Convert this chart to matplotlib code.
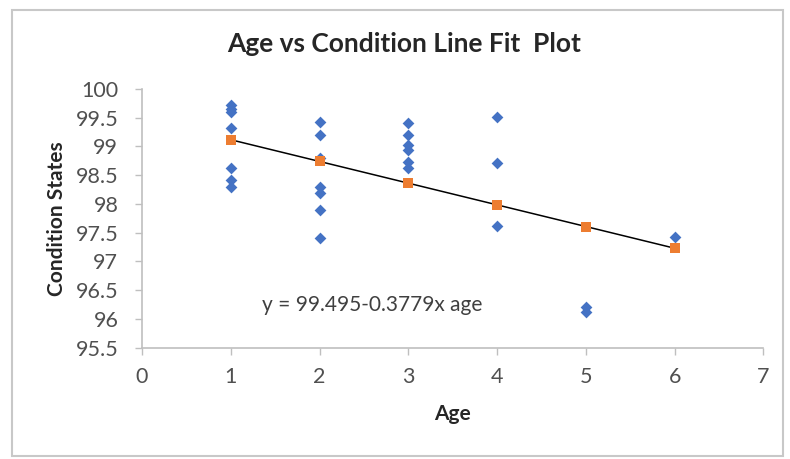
"""
Age vs Condition line fit plot
"""

import matplotlib
matplotlib.use('Agg')
import matplotlib.pyplot as plt
from matplotlib.patches import Rectangle

plt.rcParams['font.family'] = ['Lato', 'DejaVu Sans']

# observed condition states, by age
age_obs = [1, 1, 1, 1, 1, 1, 1,
           2, 2, 2, 2, 2, 2, 2,
           3, 3, 3, 3, 3, 3,
           4, 4, 4,
           5, 5,
           6]
cond_obs = [99.72, 99.66, 99.6, 99.32, 98.62, 98.41, 98.29,
            99.43, 99.2, 98.8, 98.3, 98.19, 97.89, 97.4,
            99.41, 99.2, 99.02, 98.94, 98.73, 98.62,
            99.51, 98.71, 97.62,
            96.21, 96.11,
            97.43]

# predicted values from the fit
age_fit = [1, 2, 3, 4, 5, 6]
cond_fit = [99.117, 98.739, 98.361, 97.983, 97.606, 97.228]

x_ticks = [0, 1, 2, 3, 4, 5, 6, 7]
y_ticks = [95.5, 96, 96.5, 97, 97.5, 98, 98.5, 99, 99.5, 100]

###############################################################################
fig = plt.figure(figsize=(7.9, 4.59), dpi=100)
ax = fig.add_axes([0.1797, 0.2429, 0.7867, 0.5632])

# chart border
fig.patches.append(Rectangle((12 / 790, 3 / 459), 771 / 790, 446 / 459,
                             transform=fig.transFigure, fill=False,
                             edgecolor='#c8c8c8', linewidth=1.5))

ax.plot(age_fit, cond_fit, color='black', linewidth=1.1, zorder=2)
ax.scatter(age_obs, cond_obs, marker='D', s=36, color='#4472C4',
           linewidths=0, zorder=3)
ax.scatter(age_fit, cond_fit, marker='s', s=50, color='#ED7D31',
           linewidths=0, zorder=4)

ax.text(1.35, 96.24, 'y = 99.495-0.3779x age', fontsize=15,
        color='#404040', va='center')

ax.set_xlim(0, 7)
ax.set_ylim(95.5, 100)
ax.set_xticks(x_ticks)
ax.set_yticks(y_ticks)
ax.set_xticklabels([str(t) for t in x_ticks])
ax.set_yticklabels(['%g' % t for t in y_ticks])

for side in ['top', 'right']:
    ax.spines[side].set_visible(False)
for side in ['left', 'bottom']:
    ax.spines[side].set_color('#bfbfbf')
    ax.spines[side].set_linewidth(1.2)
ax.tick_params(colors='#bfbfbf', labelcolor='#505050', labelsize=15.5,
               length=5, width=1, direction='out')
ax.tick_params(axis='x', pad=9)
ax.tick_params(axis='y', pad=12)

# the title sits centred on the whole chart, not on the plot area
fig.text(404 / 790, 1 - 44 / 459, 'Age vs Condition Line Fit  Plot',
         fontsize=19, fontweight='bold', color='#262626',
         ha='center', va='center')
ax.set_xlabel('Age', fontsize=15, fontweight='bold', color='#262626',
              labelpad=12)
ax.set_ylabel('Condition States', fontsize=15, fontweight='bold',
              color='#262626', labelpad=6)

fig.savefig('out.png', dpi=100)
